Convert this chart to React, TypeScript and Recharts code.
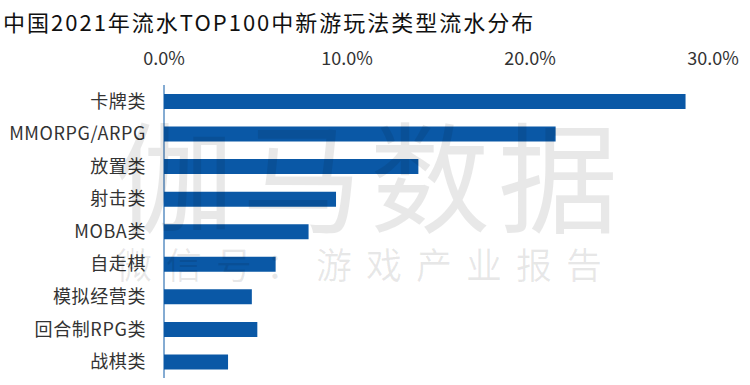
import React from 'react';
import { BarChart, Bar, XAxis, YAxis } from 'recharts';

const categories = ['卡牌类', 'MMORPG/ARPG', '放置类', '射击类', 'MOBA类', '自走棋', '模拟经营类', '回合制RPG类', '战棋类'];
const shares = [0.285, 0.214, 0.139, 0.094, 0.079, 0.061, 0.048, 0.051, 0.035];
const xTicks = [0, 0.1, 0.2, 0.3];

const chartData = categories.map((name, i) => ({ name, share: shares[i] }));

const font = '"Noto Sans CJK SC", "Noto Sans", sans-serif';

export default function App() {
  return (
    <div style={{ position: 'absolute', left: 0, top: 0, width: 750, height: 385, background: '#fff', fontFamily: font, overflow: 'hidden' }}>
      <div style={{ position: 'absolute', left: 3, top: 6, fontSize: 22, lineHeight: '30px', letterSpacing: 2, color: '#111', whiteSpace: 'nowrap' }}>
        中国2021年流水TOP100中新游玩法类型流水分布
      </div>
      <BarChart
        width={750}
        height={385}
        data={chartData}
        layout="vertical"
        margin={{ top: 55, right: 37, bottom: 7, left: 0 }}
      >
        <XAxis
          type="number"
          orientation="top"
          domain={[0, 0.3]}
          ticks={xTicks}
          tickFormatter={(v: number) => `${(v * 100).toFixed(1)}%`}
          axisLine={false}
          tickLine={false}
          tickMargin={14}
          height={30}
          tick={{ fill: '#333', fontSize: 18, fontFamily: font }}
        />
        <YAxis
          type="category"
          dataKey="name"
          width={164}
          axisLine={{ stroke: '#0a58a6', strokeWidth: 1 }}
          tickLine={false}
          tickMargin={12}
          interval={0}
          tick={{ fill: '#333', fontSize: 18, fontFamily: font, letterSpacing: 0.6 }}
        />
        <Bar dataKey="share" fill="#0a58a6" barSize={15} isAnimationActive={false} />
      </BarChart>
      <div style={{ position: 'absolute', left: 114, top: 102, fontSize: 120, lineHeight: '140px', color: 'rgba(0,0,0,0.09)', letterSpacing: 8, whiteSpace: 'nowrap', pointerEvents: 'none' }}>
        伽马数据
      </div>
      <div style={{ position: 'absolute', left: 116, top: 238, fontSize: 36, lineHeight: '50px', color: 'rgba(0,0,0,0.09)', letterSpacing: 14, whiteSpace: 'nowrap', pointerEvents: 'none' }}>
        微信号：游戏产业报告
      </div>
    </div>
  );
}
